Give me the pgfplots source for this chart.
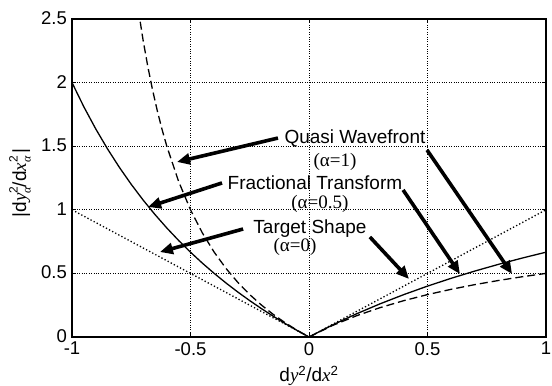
\documentclass[border=0pt]{standalone}
\usepackage{fontspec}
\setmainfont{Liberation Sans}
\newfontfamily\tms{Liberation Serif}
\usepackage{pgfplots}
\pgfplotsset{compat=1.18}
\usetikzlibrary{arrows.meta}

\newcommand{\lbl}{\fontsize{19}{22}\selectfont}
\newcommand{\supsub}[2]{\makebox[0pt][l]{\raisebox{0.85ex}{\fontsize{12}{12}\selectfont #1}}\raisebox{-0.45ex}{\fontsize{12}{12}\selectfont\tms\itshape #2}}

\begin{document}
\begin{tikzpicture}
\begin{axis}[
  scale only axis,
  width=474pt, height=318pt,
  xmin=-1, xmax=1, ymin=0, ymax=2.5,
  xtick={-1,-0.5,0,0.5,1},
  ytick={0,0.5,1,1.5,2,2.5},
  xticklabels={-1,-0.5,0,0.5,1},
  yticklabels={0,0.5,1,1.5,2,2.5},
  tick align=inside,
  major tick length=4pt,
  tick style={black, line width=0.6pt},
  axis line style={black, line width=1.2pt},
  grid=major,
  major grid style={black, dotted, line width=0.7pt},
  tick label style={font=\fontsize{18.5}{20}\selectfont, inner sep=1pt},
  xticklabel style={yshift=-4pt},
  yticklabel style={xshift=-4pt, yshift=1pt},
  /pgf/number format/assume math mode=true,
  clip=true,
]
% target shape (alpha = 0)
\addplot[black, line width=1.3pt, dash pattern=on 1.3pt off 2.2pt] coordinates {
  (-1,1) (0,0) (1,1)
};
% fractional transform (alpha = 0.5)
\addplot[black, line width=1.3pt] coordinates {
  (-1,2) (-0.95,1.8095) (-0.9,1.6364) (-0.85,1.4783) (-0.8,1.3333)
  (-0.75,1.2) (-0.7,1.0769) (-0.65,0.9630) (-0.6,0.8571) (-0.55,0.7586)
  (-0.5,0.6667) (-0.45,0.5806) (-0.4,0.5) (-0.35,0.4242) (-0.3,0.3529)
  (-0.25,0.2857) (-0.2,0.2222) (-0.15,0.1622) (-0.1,0.1053) (-0.05,0.0513)
  (0,0) (0.1,0.0952) (0.2,0.1818) (0.3,0.2609) (0.4,0.3333) (0.5,0.4)
  (0.6,0.4615) (0.7,0.5185) (0.8,0.5714) (0.9,0.6207) (1,0.6667)
};
% quasi wavefront (alpha = 1)
\addplot[black, line width=1.3pt, dash pattern=on 8pt off 4pt] coordinates {
  (-0.72,2.5714) (-0.7,2.3333) (-0.68,2.125) (-0.66,1.9412) (-0.64,1.7778)
  (-0.62,1.6316) (-0.6,1.5) (-0.55,1.2222) (-0.5,1) (-0.45,0.8182)
  (-0.4,0.6667) (-0.35,0.5385) (-0.3,0.4286) (-0.25,0.3333) (-0.2,0.25)
  (-0.15,0.1765) (-0.1,0.1111) (-0.05,0.0526) (0,0)
  (0.1,0.0909) (0.2,0.1667) (0.3,0.2308) (0.4,0.2857) (0.5,0.3333)
  (0.6,0.375) (0.7,0.4118) (0.8,0.4444) (0.9,0.4737) (1,0.5)
};

% annotations
\node[font=\lbl, inner sep=0pt] at (axis cs:0.194,1.564) {Quasi Wavefront};
\node[font=\lbl\tms, inner sep=0pt] at (axis cs:0.110,1.376) {(α=1)};
\node[font=\lbl, inner sep=0pt] at (axis cs:0.025,1.215) {Fractional Transform};
\node[font=\lbl\tms, inner sep=0pt] at (axis cs:0.046,1.050) {(α=0.5)};
\node[font=\lbl, inner sep=0pt] at (axis cs:0.004,0.849) {Target Shape};
\node[font=\lbl\tms, inner sep=0pt] at (axis cs:-0.059,0.705) {(α=0)};

\begin{scope}[line width=3.6pt, -{Triangle[length=13pt,width=11pt]}]
\draw (axis cs:-0.131,1.564) -- (axis cs:-0.557,1.376);
\draw (axis cs:-0.367,1.211) -- (axis cs:-0.679,1.022);
\draw (axis cs:-0.278,0.849) -- (axis cs:-0.629,0.668);
\draw (axis cs:0.498,1.470) -- (axis cs:0.857,0.495);
\draw (axis cs:0.397,1.156) -- (axis cs:0.637,0.495);
\draw (axis cs:0.257,0.786) -- (axis cs:0.422,0.456);
\end{scope}
\end{axis}

\node[rotate=90, font=\lbl, inner sep=0pt] at ([xshift=-52pt,yshift=-5pt]current axis.west)
  {|d{\tms\itshape y}\supsub{2}{α}/d{\tms\itshape x}\supsub{2}{α}\,|};
\node[font=\lbl, inner sep=0pt] at ([yshift=-39pt]current axis.south)
  {d{\tms\itshape y}\textsuperscript{2}/d{\tms\itshape x}\textsuperscript{2}};

\pgfresetboundingbox
\path ([xshift=-72pt,yshift=-49pt]current axis.south west)
  rectangle ([xshift=6pt,yshift=19pt]current axis.north east);
\end{tikzpicture}
\end{document}
